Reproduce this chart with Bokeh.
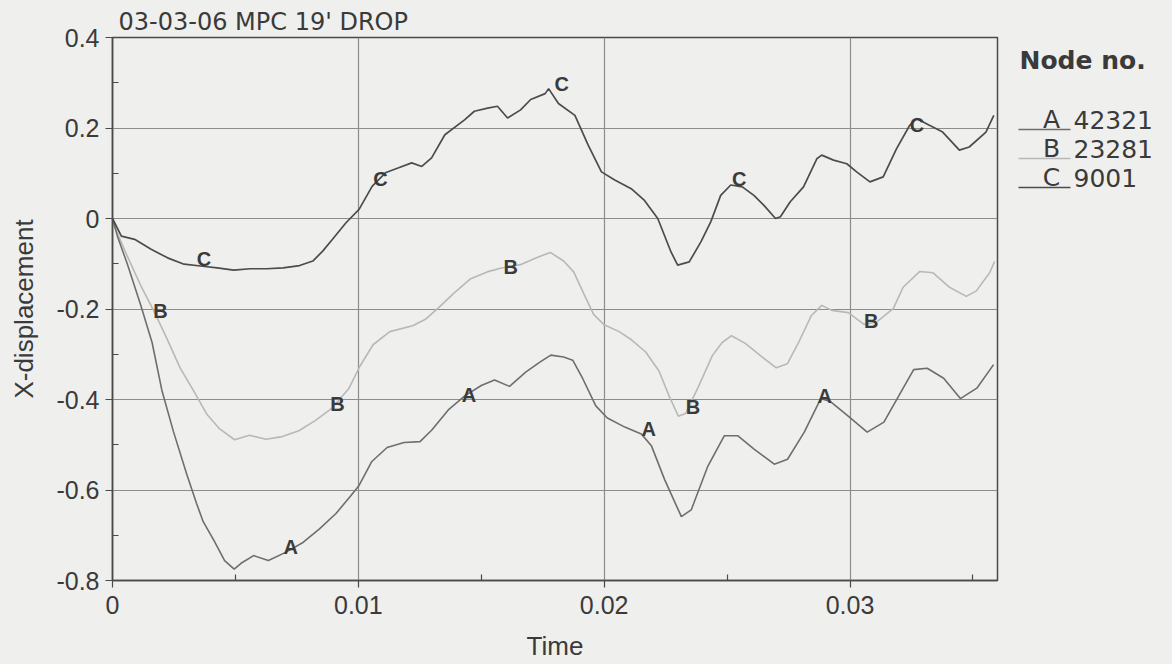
from bokeh.plotting import figure
from bokeh.layouts import row
from bokeh.models import Range1d, FixedTicker
from bokeh.core.properties import value
from bokeh.embed import file_html
from bokeh.resources import INLINE

# ---------------- data ----------------
time_a = [0, 0.0002, 0.0006, 0.00114, 0.00161, 0.00201, 0.00248, 0.00302, 0.00342, 0.00369,
          0.00413, 0.00456, 0.00495, 0.00523, 0.00574, 0.00634, 0.00700, 0.00775, 0.00842, 0.00909,
          0.00966, 0.01003, 0.01055, 0.01117, 0.01186, 0.01251, 0.01298, 0.01366, 0.01433, 0.01500,
          0.01554, 0.01615, 0.01682, 0.01740, 0.01783, 0.01835, 0.01872, 0.01912, 0.01966, 0.02013,
          0.02084, 0.02151, 0.02192, 0.02246, 0.02314, 0.02354, 0.02422, 0.02489, 0.02543, 0.02611,
          0.02692, 0.02746, 0.02814, 0.02881, 0.02922, 0.02989, 0.03070, 0.03138, 0.03192, 0.03259,
          0.03314, 0.03381, 0.03449, 0.03516, 0.03584]
disp_a = [0, -0.039, -0.100, -0.190, -0.274, -0.380, -0.471, -0.565, -0.630, -0.670,
          -0.712, -0.756, -0.775, -0.762, -0.745, -0.756, -0.739, -0.716, -0.686, -0.652,
          -0.615, -0.590, -0.537, -0.506, -0.495, -0.493, -0.468, -0.423, -0.392, -0.369,
          -0.357, -0.371, -0.339, -0.317, -0.302, -0.306, -0.313, -0.353, -0.414, -0.441,
          -0.461, -0.476, -0.502, -0.577, -0.659, -0.644, -0.547, -0.480, -0.480, -0.510,
          -0.543, -0.532, -0.472, -0.398, -0.405, -0.435, -0.472, -0.450, -0.398, -0.334,
          -0.331, -0.353, -0.398, -0.375, -0.323]

time_b = [0, 0.00013, 0.0006, 0.00114, 0.00168, 0.00221, 0.00275, 0.00329, 0.00383, 0.00436,
          0.00497, 0.00557, 0.00624, 0.00691, 0.00758, 0.00826, 0.00893, 0.00960, 0.01007, 0.01060,
          0.01128, 0.01221, 0.01275, 0.01329, 0.01389, 0.01457, 0.01524, 0.01578, 0.01659, 0.01727,
          0.01781, 0.01835, 0.01876, 0.01916, 0.01957, 0.02000, 0.02061, 0.02111, 0.02169, 0.02223,
          0.02264, 0.02302, 0.02331, 0.02383, 0.02440, 0.02480, 0.02518, 0.02574, 0.02642, 0.02700,
          0.02745, 0.02791, 0.02842, 0.02885, 0.02926, 0.02993, 0.03057, 0.03110, 0.03176, 0.03216,
          0.03284, 0.03338, 0.03405, 0.03473, 0.03514, 0.03568, 0.03588]
disp_b = [-0.010, -0.024, -0.083, -0.147, -0.204, -0.265, -0.330, -0.380, -0.432, -0.465,
          -0.489, -0.479, -0.488, -0.482, -0.469, -0.446, -0.419, -0.377, -0.326, -0.279,
          -0.250, -0.237, -0.222, -0.196, -0.165, -0.133, -0.118, -0.110, -0.102, -0.086,
          -0.075, -0.094, -0.118, -0.165, -0.212, -0.235, -0.250, -0.268, -0.295, -0.337,
          -0.392, -0.437, -0.431, -0.372, -0.303, -0.274, -0.259, -0.276, -0.306, -0.330,
          -0.321, -0.274, -0.215, -0.192, -0.203, -0.208, -0.234, -0.228, -0.199, -0.152,
          -0.117, -0.120, -0.152, -0.172, -0.160, -0.120, -0.095]

time_c = [0, 0.00036, 0.0009, 0.00157, 0.00224, 0.00291, 0.00358, 0.00426, 0.00493, 0.0056,
          0.00627, 0.00694, 0.00761, 0.00815, 0.00855, 0.00895, 0.00949, 0.01003, 0.01056, 0.0111,
          0.01164, 0.01217, 0.01258, 0.01298, 0.01352, 0.01432, 0.01472, 0.01526, 0.01566, 0.01607,
          0.0166, 0.01701, 0.0176, 0.01774, 0.01814, 0.01881, 0.01935, 0.01989, 0.02043, 0.0211,
          0.02164, 0.02218, 0.02272, 0.02299, 0.02346, 0.02394, 0.02434, 0.02474, 0.02515, 0.02562,
          0.02609, 0.0265, 0.02697, 0.02717, 0.02757, 0.02811, 0.02865, 0.02885, 0.02933, 0.02987,
          0.03027, 0.03081, 0.03135, 0.03189, 0.03243, 0.0327, 0.03323, 0.03377, 0.03445, 0.03485,
          0.03553, 0.03585]
disp_c = [0, -0.039, -0.046, -0.068, -0.087, -0.101, -0.105, -0.109, -0.114, -0.111,
          -0.111, -0.109, -0.104, -0.094, -0.072, -0.046, -0.010, 0.020, 0.071, 0.101,
          0.112, 0.123, 0.115, 0.134, 0.185, 0.218, 0.237, 0.244, 0.248, 0.222,
          0.240, 0.263, 0.276, 0.287, 0.254, 0.228, 0.162, 0.103, 0.085, 0.066,
          0.040, 0.0, -0.074, -0.103, -0.096, -0.051, -0.007, 0.051, 0.074, 0.070,
          0.051, 0.029, 0.0, 0.004, 0.037, 0.070, 0.132, 0.140, 0.129, 0.121,
          0.103, 0.081, 0.092, 0.154, 0.206, 0.221, 0.206, 0.191, 0.151, 0.158,
          0.191, 0.228]

# curve letters drawn along the lines
mark_a_x = [0.00725, 0.0145, 0.02181, 0.02897]
mark_a_y = [-0.726, -0.389, -0.466, -0.392]
mark_b_x = [0.00195, 0.00915, 0.0162, 0.02361, 0.03086]
mark_b_y = [-0.204, -0.409, -0.107, -0.416, -0.226]
mark_c_x = [0.00372, 0.0109, 0.01827, 0.02549, 0.03272]
mark_c_y = [-0.089, 0.0875, 0.298, 0.087, 0.207]

node_letters = ["A", "B", "C"]
node_numbers = ["42321", "23281", "9001"]

x_ticks = [0, 0.01, 0.02, 0.03]
x_tick_labels = ["0", "0.01", "0.02", "0.03"]
x_minor_ticks = [0.005, 0.015, 0.025, 0.035]
y_ticks = [-0.8, -0.6, -0.4, -0.2, 0, 0.2, 0.4]
y_tick_labels = ["-0.8", "-0.6", "-0.4", "-0.2", "0", "0.2", "0.4"]
y_minor_ticks = [-0.7, -0.5, -0.3, -0.1, 0.1, 0.3]

title_text = "03-03-06 MPC 19' DROP"
x_label = "Time"
y_label = "X-displacement"
legend_title = "Node no."

# ---------------- styling ----------------
X_MIN, X_MAX = 0.0, 0.036
Y_MIN, Y_MAX = -0.8, 0.4
H = 664
W_MAIN, W_LEG = 1005, 167
LEFT, RIGHT, TOP, BOTTOM = 112, 8, 37, 84

BG = "#efefed"
INK = "#3a3a3a"
COL_A = "#6e6e6e"
COL_B = "#b8b8b8"
COL_C = "#4c4c4c"
FONT = "Liberation Sans"
FONT2 = "DejaVu Sans"

p = figure(width=W_MAIN, height=H, output_backend="svg", toolbar_location=None,
           x_range=Range1d(X_MIN, X_MAX), y_range=Range1d(Y_MIN, Y_MAX),
           min_border_left=LEFT, min_border_right=RIGHT,
           min_border_top=TOP, min_border_bottom=BOTTOM)

p.background_fill_color = BG
p.border_fill_color = BG
p.outline_line_color = "#4a4a4a"
p.outline_line_width = 1.5

p.title.text = title_text
p.title.align = "left"
p.title.offset = 6
p.title.standoff = 4
p.title.text_font = FONT2
p.title.text_font_size = "24px"
p.title.text_font_style = "normal"
p.title.text_color = INK

p.xaxis.ticker = FixedTicker(ticks=x_ticks, minor_ticks=x_minor_ticks)
p.yaxis.ticker = FixedTicker(ticks=y_ticks, minor_ticks=y_minor_ticks)
p.xaxis.major_label_overrides = {t: l for t, l in zip(x_ticks, x_tick_labels)}
p.yaxis.major_label_overrides = {t: l for t, l in zip(y_ticks, y_tick_labels)}

for ax in (p.xaxis[0], p.yaxis[0]):
    ax.axis_line_color = "#4a4a4a"
    ax.axis_line_width = 1.5
    ax.major_tick_line_color = "#4a4a4a"
    ax.major_tick_line_width = 1.2
    ax.minor_tick_line_color = "#4a4a4a"
    ax.minor_tick_line_width = 1.2
    ax.major_tick_out = 7
    ax.major_tick_in = 0
    ax.minor_tick_in = 6
    ax.minor_tick_out = 0
    ax.major_label_text_font = FONT
    ax.major_label_text_font_size = "25px"
    ax.major_label_text_color = INK
    ax.axis_label_text_font = FONT
    ax.axis_label_text_font_size = "26px"
    ax.axis_label_text_font_style = "normal"
    ax.axis_label_text_color = INK

p.xaxis.axis_label = x_label
p.yaxis.axis_label = y_label
p.xaxis.major_label_standoff = 8
p.xaxis.axis_label_standoff = 14
p.yaxis.major_label_standoff = 6
p.yaxis.axis_label_standoff = 14

p.xgrid.grid_line_color = "#8c8c8c"
p.ygrid.grid_line_color = "#8c8c8c"
p.xgrid.grid_line_width = 1.2
p.ygrid.grid_line_width = 1.2

# curves
p.line(time_b, disp_b, line_color=COL_B, line_width=1.6)
p.line(time_a, disp_a, line_color=COL_A, line_width=1.6)
p.line(time_c, disp_c, line_color=COL_C, line_width=1.7)

for mx, my, letter in ((mark_a_x, mark_a_y, "A"), (mark_b_x, mark_b_y, "B"), (mark_c_x, mark_c_y, "C")):
    p.text(x=mx, y=my, text=[letter] * len(mx), text_font=value(FONT),
           text_font_style="bold", text_font_size="20px", text_align="center",
           text_baseline="middle", text_color=INK)

# ---------------- legend panel (separate figure; its frame is aligned with the main frame,
# so its y range is expressed in page pixels from TOP to H-BOTTOM) ----------------
leg = figure(width=W_LEG, height=H, output_backend="svg", toolbar_location=None,
             x_range=Range1d(0, W_LEG), y_range=Range1d(H - BOTTOM, TOP),
             x_axis_location=None, y_axis_location=None,
             min_border_left=0, min_border_right=0, min_border_top=TOP, min_border_bottom=BOTTOM)
leg.background_fill_color = BG
leg.border_fill_color = BG
leg.outline_line_color = None
leg.xgrid.visible = False
leg.ygrid.visible = False

leg.text(x=[14], y=[60], text=[legend_title], text_font=value(FONT2),
         text_font_style="bold", text_font_size="25px", text_baseline="middle",
         text_color=INK)
row_y = [119, 148, 177]
line_cols = [COL_A, COL_B, COL_C]
leg.segment(x0=[13] * 3, y0=[y + 10 for y in row_y], x1=[65] * 3, y1=[y + 10 for y in row_y],
            line_color=line_cols, line_width=1.6)
leg.text(x=[46] * 3, y=row_y, text=node_letters, text_font=value(FONT2),
         text_font_size="25px", text_align="center", text_baseline="middle", text_color=INK)
leg.text(x=[68] * 3, y=row_y, text=node_numbers, text_font=value(FONT2),
         text_font_size="25px", text_baseline="middle", text_color=INK)

layout = row(p, leg, spacing=0, styles={"background-color": BG})
open("out.html", "w").write(file_html(layout, INLINE))
